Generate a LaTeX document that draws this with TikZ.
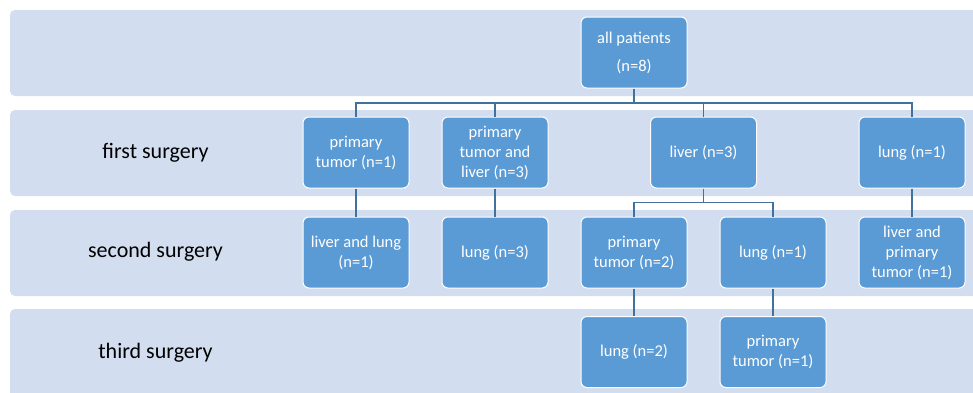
\documentclass[tikz,border=0pt]{standalone}
\usepackage{fontspec}
\setmainfont{Carlito}
\definecolor{bandfill}{HTML}{D2DEEF}
\definecolor{boxfill}{HTML}{5B9BD5}
\definecolor{linkcol}{HTML}{41719C}
\begin{document}
\begin{tikzpicture}[x=1pt,y=-1pt,
  band/.style={fill=bandfill,draw=none,rounded corners=5pt},
  rowlabel/.style={font=\fontsize{22}{26}\selectfont,text=black,inner sep=0pt},
  box/.style={rectangle,rounded corners=6pt,fill=boxfill,draw=white,line width=1pt,
    minimum width=106pt,minimum height=71pt,inner sep=0pt,align=center,text=white,
    font=\fontsize{16.5}{20}\selectfont},
  link/.style={draw=linkcol,line width=1.2pt}]
\useasboundingbox (0,0) rectangle (973,392);
\clip (0,0) rectangle (973,392);
\fill[white] (0,0) rectangle (973,392);
% bands
\path[band] (10,10) rectangle (990,96);
\path[band] (10,110) rectangle (990,196);
\path[band] (10,210) rectangle (990,296);
\path[band] (10,309) rectangle (990,405);
% row labels
\node[rowlabel] (l1) at (155.5,153) {first surgery};
\node[rowlabel] (l2) at (155.5,252) {second surgery};
\node[rowlabel] (l3) at (155.5,353) {third surgery};
% boxes
\node[box] (all) at (634,52.5) {all patients\\[8pt](n=8)};
\node[box] (p1) at (356,152.5) {primary\\tumor (n=1)};
\node[box] (p2) at (495,152.5) {primary\\tumor and\\liver (n=3)};
\node[box] (liv) at (703.5,152.5) {liver (n=3)};
\node[box] (lu1) at (912,152.5) {lung (n=1)};
\node[box] (ll) at (356,252.5) {liver and lung\\(n=1)};
\node[box] (lu3) at (495,252.5) {lung (n=3)};
\node[box] (pt2) at (634,252.5) {primary\\tumor (n=2)};
\node[box] (lub) at (773,252.5) {lung (n=1)};
\node[box] (lpt) at (912,252.5) {liver and\\primary\\tumor (n=1)};
\node[box] (lu2) at (634,352) {lung (n=2)};
\node[box] (pt1) at (773,352) {primary\\tumor (n=1)};
% connectors
\coordinate (bus1) at (634,103);
\coordinate (bus2) at (634,202.5);
\draw[link] (all.south) -- (bus1);
\draw[link] (p1.north) -- (p1.north |- bus1) -- (lu1.north |- bus1) -- (lu1.north);
\draw[link] (p2.north) -- (p2.north |- bus1);
\draw[link] (liv.north) -- (liv.north |- bus1);
\draw[link] (p1.south) -- (ll.north);
\draw[link] (p2.south) -- (lu3.north);
\draw[link] (lu1.south) -- (lpt.north);
\draw[link] (liv.south) -- (liv.south |- bus2);
\draw[link] (pt2.north) -- (pt2.north |- bus2) -- (lub.north |- bus2) -- (lub.north);
\draw[link] (pt2.south) -- (lu2.north);
\draw[link] (lub.south) -- (pt1.north);
\end{tikzpicture}
\end{document}
